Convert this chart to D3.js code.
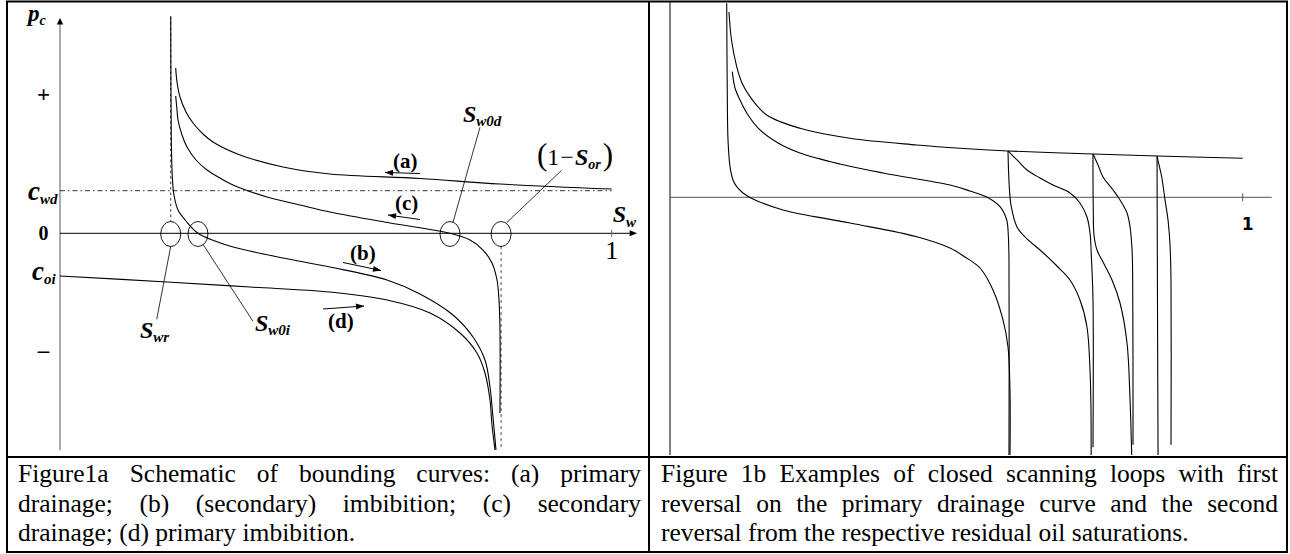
<!DOCTYPE html>
<html>
<head>
<meta charset="utf-8">
<script src="https://cdn.jsdelivr.net/npm/d3@7"></script>
<style>
  body { margin: 0; background: #fff; }
  svg { display: block; }
</style>
</head>
<body>
<svg id="chart" width="1290" height="554"></svg>
<script>
// ---- Figure 1a: bounding curves, points are [Sw, pc] ----
const curveA = [[0.2097,0.7628],[0.2121,0.6982],[0.2175,0.629],[0.2284,0.5598],[0.2411,0.509],[0.2592,0.4582],[0.2773,0.4213],[0.3263,0.3613],[0.4042,0.306],[0.4894,0.2737],[0.6525,0.2529],[0.7975,0.2275],[1.0,0.2044]];
const curveC = [[0.2097,0.6336],[0.2121,0.569],[0.2139,0.5228],[0.2211,0.4536],[0.2302,0.3982],[0.2465,0.3383],[0.2665,0.2921],[0.29,0.2552],[0.3136,0.2229],[0.3752,0.1675],[0.435,0.1306],[0.4894,0.0983],[0.5981,0.0475],[0.7069,0],[0.7432,-0.0309],[0.7667,-0.0771],[0.783,-0.137],[0.7921,-0.2155],[0.7957,-0.3078],[0.7975,-0.4462],[0.7975,-0.8293]];
const curveB = [[0.2007,1.0],[0.2009,0.8],[0.2012,0.6151],[0.2021,0.3844],[0.2039,0.246],[0.2066,0.1767],[0.2139,0.1075],[0.2284,0.0568],[0.2501,0],[0.281,-0.0355],[0.3136,-0.0632],[0.4042,-0.114],[0.4894,-0.1555],[0.5927,-0.2155],[0.6525,-0.2801],[0.7123,-0.377],[0.7486,-0.4785],[0.7703,-0.5847],[0.7794,-0.7093],[0.7848,-0.8477],[0.7903,-1.0]];
const curveD = [[0,-0.197],[0.1939,-0.2247],[0.3444,-0.2478],[0.4894,-0.2709],[0.5927,-0.3078],[0.6707,-0.3678],[0.725,-0.4601],[0.7558,-0.5524],[0.7703,-0.6447],[0.7794,-0.7693],[0.783,-0.8847],[0.7885,-1.0]];

// saturations marked with circles on the Sw axis
const markNames = ['Swr', 'Sw0i', 'Sw0d', '1-Sor'];
const markValues = [0.2007, 0.2501, 0.7069, 0.7995];
const cwd = 0.1966;
const coi = -0.197;
const yTickLabels = ['+', '0', '\u2013'];
const yTickValues = [0.634, 0, -0.55];

// ---- Figure 1b: scanning loops, points are [Sw, pc] ----
const drainageB = [[0.103,0.7191],[0.1074,0.6104],[0.1165,0.5068],[0.1257,0.4435],[0.1397,0.3904],[0.1688,0.3194],[0.227,0.2678],[0.3143,0.2289],[0.4308,0.2029],[0.5064,0.1901],[0.5902,0.1797],[0.7386,0.168],[0.8504,0.1603],[1.0,0.1513]];
const imbibitionB = [[0.099,0.7528],[0.1001,0.3776],[0.1013,0.2224],[0.1048,0.1187],[0.11,0.0671],[0.1165,0.0411],[0.1275,0.0167],[0.1449,-0.0066],[0.1973,-0.0493],[0.3143,-0.0997],[0.4308,-0.1529],[0.4889,-0.1967],[0.5151,-0.2317],[0.5413,-0.2744],[0.564,-0.3597],[0.5815,-0.4761],[0.5902,-0.5809],[0.5937,-0.7594],[0.5937,-1.0]];
const secondaryB = [[0.1088,0.4874],[0.1135,0.4241],[0.1222,0.3776],[0.1362,0.3194],[0.1572,0.2612],[0.1886,0.2107],[0.227,0.1719],[0.2968,0.1292],[0.3719,0.0943],[0.4889,0.0477],[0.5238,0.0244],[0.553,0.0012],[0.5762,-0.0365],[0.5879,-0.0881],[0.5907,-0.1463],[0.5919,-0.2433],[0.5919,-1.0]];
const loop1Up = [[0.5902,0.1797],[0.6076,0.1409],[0.6234,0.1059],[0.6461,0.0749],[0.6688,0.0477],[0.6984,0.0167],[0.7159,-0.0221],[0.7281,-0.0764],[0.7334,-0.1385],[0.736,-0.2433],[0.7386,-0.3985],[0.7386,-0.97]];
const loop1Down = [[0.5902,0.1797],[0.5911,0.1059],[0.5928,0.0283],[0.5954,-0.0299],[0.6059,-0.1153],[0.6234,-0.1618],[0.6461,-0.2045],[0.6757,-0.2666],[0.6984,-0.3209],[0.7159,-0.3985],[0.7281,-0.5033],[0.7334,-0.6702],[0.7351,-0.8254],[0.7354,-1.0]];
const loop2Up = [[0.7386,0.168],[0.7474,0.1253],[0.7561,0.0788],[0.7736,0.0283],[0.7858,-0.0105],[0.798,-0.0609],[0.8033,-0.1153],[0.8068,-0.2045],[0.8079,-0.3209],[0.8085,-0.96]];
const loop2Down = [[0.7386,0.168],[0.7386,0.0671],[0.7391,-0.0493],[0.7403,-0.1463],[0.7456,-0.2045],[0.7561,-0.2511],[0.7718,-0.3209],[0.7858,-0.4102],[0.798,-0.5654],[0.8033,-0.7866],[0.8062,-1.0]];
const loop3Up = [[0.8504,0.1603],[0.8539,0.1253],[0.8586,0.0788],[0.8644,-0.0105],[0.8696,-0.0881],[0.8731,-0.1851],[0.8748,-0.3209],[0.8748,-0.96]];
const loop3Down = [[0.8504,0.1603],[0.8509,-0.2],[0.8515,-0.6],[0.8522,-1.0]];

// ---- captions ----
const captionA = [
    'Figure1a Schematic of bounding curves: (a) primary',
    'drainage; (b) (secondary) imbibition; (c) secondary',
    'drainage; (d) primary imbibition.'
];
const captionB = [
    'Figure 1b Examples of closed scanning loops with first',
    'reversal on the primary drainage curve and the second',
    'reversal from the respective residual oil saturations.'
];

const SERIF = '"Liberation Serif", "Times New Roman", serif';
const svg = d3.select('#chart');

// table frame
svg.append('rect')
    .attr('x', 7).attr('y', 1.5).attr('width', 1280).attr('height', 550.5)
    .attr('fill', 'none').attr('stroke', '#000').attr('stroke-width', 2);
svg.append('line').attr('x1', 649).attr('x2', 649).attr('y1', 1).attr('y2', 552)
    .attr('stroke', '#000').attr('stroke-width', 2);
svg.append('line').attr('x1', 7).attr('x2', 1287).attr('y1', 457).attr('y2', 457)
    .attr('stroke', '#000').attr('stroke-width', 2);

// ---------------- Figure 1a ----------------
const xA = d3.scaleLinear().domain([0, 1]).range([60, 611.7]);
const yA = d3.scaleLinear().domain([-1, 1]).range([450, 16.6]);
const lineA = d3.line().x(d => xA(d[0])).y(d => yA(d[1])).curve(d3.curveCatmullRom.alpha(0.5));
const gA = svg.append('g');

// axes
gA.append('line').attr('x1', xA(0)).attr('x2', xA(0)).attr('y1', yA(-1)).attr('y2', yA(1) + 6)
    .attr('stroke', '#7f7f7f').attr('stroke-width', 1.3);
gA.append('path')
    .attr('d', `M${xA(0)},${yA(1) + 1.5} L${xA(0) - 3.2},${yA(1) + 8} L${xA(0) + 3.2},${yA(1) + 8} Z`)
    .attr('fill', '#000');
gA.append('line').attr('x1', xA(0)).attr('x2', xA(1) + 20).attr('y1', yA(0)).attr('y2', yA(0))
    .attr('stroke', '#000').attr('stroke-width', 1);
gA.append('path')
    .attr('d', `M${xA(1) + 25.5},${yA(0)} L${xA(1) + 18},${yA(0) - 3} L${xA(1) + 18},${yA(0) + 3} Z`)
    .attr('fill', '#000');
gA.append('line').attr('x1', xA(1)).attr('x2', xA(1)).attr('y1', yA(0) - 3.5).attr('y2', yA(0) + 3.5)
    .attr('stroke', '#666').attr('stroke-width', 1);

// reference lines
gA.append('line').attr('x1', xA(0)).attr('x2', xA(1)).attr('y1', yA(cwd)).attr('y2', yA(cwd))
    .attr('stroke', '#000').attr('stroke-width', 0.8).attr('stroke-dasharray', '5,3,1.5,3');
gA.append('line').attr('x1', xA(markValues[0])).attr('x2', xA(markValues[0]))
    .attr('y1', yA(1)).attr('y2', yA(0) - 12)
    .attr('stroke', '#000').attr('stroke-width', 0.8).attr('stroke-dasharray', '2.5,3');
gA.append('line').attr('x1', xA(markValues[3])).attr('x2', xA(markValues[3]))
    .attr('y1', yA(0) + 13).attr('y2', yA(-1))
    .attr('stroke', '#000').attr('stroke-width', 0.8).attr('stroke-dasharray', '2.5,3.5');

// curves
[curveA, curveC, curveB, curveD].forEach(c => {
    gA.append('path').attr('d', lineA(c))
        .attr('fill', 'none').attr('stroke', '#000').attr('stroke-width', 1.1);
});

// circles on the Sw axis
gA.selectAll('ellipse.mark')
    .data(markValues)
    .enter()
    .append('ellipse')
    .attr('class', 'mark')
    .attr('cx', d => xA(d)).attr('cy', yA(0) + 0.7)
    .attr('rx', 10).attr('ry', 12.5)
    .attr('fill', 'none').attr('stroke', '#000').attr('stroke-width', 0.9);

// leader lines: [dx1, dy1, dx2, dy2] relative to the circle centre
const leaderOffsets = [[0, 13, -14, 86], [5, 11, 55, 88], [3, -11, 30, -106], [5.5, -10.5, 60.5, -63]];
leaderOffsets.forEach((o, i) => {
    const cx = xA(markValues[i]), cy = yA(0);
    gA.append('line').attr('x1', cx + o[0]).attr('y1', cy + o[1]).attr('x2', cx + o[2]).attr('y2', cy + o[3])
        .attr('stroke', '#000').attr('stroke-width', 0.8);
});

// math labels
function symbol(g, x, y, main, sub, size, subSize, subDy) {
    const t = g.append('text').attr('x', x).attr('y', y)
        .style('font-family', SERIF).style('font-weight', 'bold').style('font-style', 'italic')
        .style('font-size', size + 'px');
    t.append('tspan').text(main);
    if (sub) {
        t.append('tspan').attr('dy', subDy).style('font-size', subSize + 'px').text(sub);
    }
    return t;
}
symbol(gA, 28, 21, 'p', 'c', 23, 14, 4);
symbol(gA, 28, yA(cwd) + 9, 'c', 'wd', 27, 15, 4);
symbol(gA, 32, yA(coi) + 4, 'c', 'oi', 27, 15, 4);
symbol(gA, 140, 338, 'S', 'wr', 24, 15, 4);
symbol(gA, 255, 331, 'S', 'w0i', 24, 15, 4);
symbol(gA, 463, 122, 'S', 'w0d', 24, 15, 4);
symbol(gA, xA(1) + 1, yA(0) - 11, 'S', 'w', 24, 15, 5);

// (1 - S_or)
const sor = gA.append('text').attr('x', 537).attr('y', 165)
    .style('font-family', SERIF).style('font-size', '24px');
sor.append('tspan').style('font-size', '31px').text('(');
sor.append('tspan').text('1');
sor.append('tspan').attr('dx', 1).text('\u2212');
sor.append('tspan').attr('dx', 1).style('font-weight', 'bold').style('font-style', 'italic').text('S');
sor.append('tspan').attr('dy', 4).style('font-weight', 'bold').style('font-style', 'italic').style('font-size', '14px').text('or');
sor.append('tspan').attr('dy', -4).attr('dx', 2).style('font-size', '31px').text(')');

// y tick symbols
gA.selectAll('text.ytick')
    .data(yTickLabels)
    .enter()
    .append('text')
    .attr('class', 'ytick')
    .attr('x', 43.5)
    .attr('y', (d, i) => yA(yTickValues[i]) + (d === '0' ? 7 : 6))
    .attr('text-anchor', 'middle')
    .style('font-family', SERIF).style('font-weight', 'bold')
    .style('font-size', d => d === '0' ? '20px' : '23px')
    .text(d => d);

// "1" on the Sw axis
gA.append('text').attr('x', xA(1)).attr('y', yA(0) + 26).attr('text-anchor', 'middle')
    .style('font-family', SERIF).style('font-size', '26px').text('1');

// curve labels with direction arrows
function arrow(g, x1, y1, x2, y2) {
    g.append('line').attr('x1', x1).attr('y1', y1).attr('x2', x2).attr('y2', y2)
        .attr('stroke', '#000').attr('stroke-width', 1);
    const a = Math.atan2(y2 - y1, x2 - x1), L = 8, w = 3;
    const bx = x2 - L * Math.cos(a), by = y2 - L * Math.sin(a);
    g.append('path')
        .attr('d', `M${x2},${y2} L${bx - w * Math.sin(a)},${by + w * Math.cos(a)} L${bx + w * Math.sin(a)},${by - w * Math.cos(a)} Z`)
        .attr('fill', '#000');
}
const curveLabels = ['(a)', '(c)', '(b)', '(d)'];
const curveLabelPos = [[393, 168], [395, 210], [350, 260], [328, 328]];
const curveArrows = [[420, 173.5, 385, 172.5], [420, 219.5, 388, 215], [343, 262.5, 381, 270.5], [323, 309, 364, 306]];
curveLabels.forEach((l, i) => {
    gA.append('text').attr('x', curveLabelPos[i][0]).attr('y', curveLabelPos[i][1])
        .style('font-family', SERIF).style('font-weight', 'bold').style('font-size', '21px').text(l);
    arrow(gA, ...curveArrows[i]);
});

// ---------------- Figure 1b ----------------
const xB = d3.scaleLinear().domain([0, 1]).range([670, 1242.7]);
const yB = d3.scaleLinear().domain([-1, 0.75]).range([455, 4]);
const lineB = d3.line().x(d => xB(d[0])).y(d => yB(d[1])).curve(d3.curveCatmullRom.alpha(0.5));
const gB = svg.append('g');

gB.append('line').attr('x1', xB(0)).attr('x2', xB(0)).attr('y1', 2).attr('y2', yB(-1))
    .attr('stroke', '#000').attr('stroke-width', 1);
gB.append('line').attr('x1', xB(0)).attr('x2', xB(1) + 29).attr('y1', yB(0)).attr('y2', yB(0))
    .attr('stroke', '#555').attr('stroke-width', 1);
gB.append('line').attr('x1', xB(1)).attr('x2', xB(1)).attr('y1', yB(0) - 4).attr('y2', yB(0) + 4)
    .attr('stroke', '#555').attr('stroke-width', 1);
gB.append('text').attr('x', xB(1) + 5).attr('y', yB(0) + 33).attr('text-anchor', 'middle')
    .style('font-family', '"DejaVu Sans", sans-serif').style('font-weight', 'bold').style('font-size', '17px')
    .text('1');

[drainageB, imbibitionB, secondaryB, loop1Up, loop1Down, loop2Up, loop2Down, loop3Up, loop3Down].forEach(c => {
    gB.append('path').attr('d', lineB(c))
        .attr('fill', 'none').attr('stroke', '#000').attr('stroke-width', 1.1);
});

// ---------------- captions (justified) ----------------
const capSize = 25.5;
function drawCaption(lines, x0, x1, yFirst, lineH) {
    const g = svg.append('g')
        .attr('font-family', SERIF).attr('font-size', capSize).attr('fill', '#000');
    lines.forEach((line, i) => {
        const words = line.split(' ');
        const y = yFirst + i * lineH;
        const nodes = words.map(w => g.append('text').attr('y', y).text(w));
        const widths = nodes.map(n => n.node().getComputedTextLength());
        const last = i === lines.length - 1;
        const gap = last ? capSize * 0.25 : (x1 - x0 - d3.sum(widths)) / (words.length - 1);
        let x = x0;
        nodes.forEach((n, j) => { n.attr('x', x); x += widths[j] + gap; });
    });
}
drawCaption(captionA, 18, 641, 482, 29.5);
drawCaption(captionB, 661, 1278, 482, 29.5);
</script>
</body>
</html>
